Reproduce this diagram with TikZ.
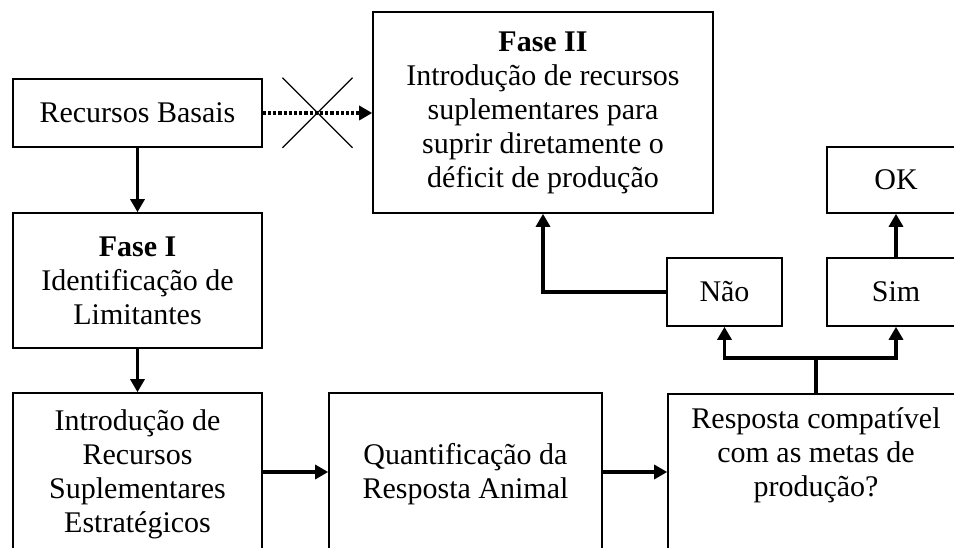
\documentclass[tikz,border=0pt]{standalone}
\usepackage{fontspec}
\setmainfont{Liberation Serif}
\usetikzlibrary{positioning}
\usetikzlibrary{calc}
\usetikzlibrary{arrows.meta}
\usetikzlibrary{shapes.misc}
\tikzset{
    caixa/.style={draw, line width=1.6pt, align=center, inner sep=0pt, font=\fontsize{30}{34}\selectfont},
    texto/.style={align=center, inner sep=0pt, font=\fontsize{30}{34}\selectfont},
    seta/.style={line width=3.2pt, -{Triangle[length=13pt,width=14pt]}},
    linha/.style={line width=3.2pt},
    pontilhada/.style={line width=3.6pt, dash pattern=on 3.2pt off 2pt, -{Triangle[length=13pt,width=14pt]}},
}

\begin{document}
\begin{tikzpicture}[x=1pt, y=1pt]
            \useasboundingbox (0,0) rectangle (954,547);
            \clip (0,0) rectangle (954,547);

            % Left column
            \node[caixa, minimum width=249pt, minimum height=68pt] (basais) at (137.5,434) {Recursos Basais};
            \node[caixa, minimum width=249pt, minimum height=135pt] (faseI) at (137.5,266.5) {\textbf{Fase I}\\Identificação de\\Limitantes};
            \node[caixa, minimum width=249pt, minimum height=162pt] (intro) at (137.5,73) {Introdução de\\Recursos\\Suplementares\\Estratégicos};

            % Bottom row
            \node[caixa, minimum width=273pt, minimum height=162pt] (quant) at (465.5,73) {Quantificação da\\Resposta Animal};
            \node[caixa, minimum width=296pt, minimum height=170pt, anchor=north] (resp) at (816,154) {};
            \node[texto, below=14pt of resp.north] (resptexto) {Resposta compatível\\com as metas de\\produção?};

            % Fase II and the answers
            \node[caixa, minimum width=340pt, minimum height=201pt] (faseII) at (543,434.5) {\textbf{Fase II}\\Introdução de recursos\\suplementares para\\suprir diretamente o\\déficit de produção};
            \node[caixa, minimum width=115pt, minimum height=68pt] (nao) at (724.5,255) {Não};
            \node[caixa, minimum width=138pt, minimum height=68pt] (sim) at (896,255) {Sim};
            \node[caixa, minimum width=138pt, minimum height=66pt] (ok) at (896,367) {OK};

            % Arrows
            \draw[seta] (basais) -- (faseI);
            \draw[seta] (faseI) -- (intro);
            \draw[seta] (intro.east |- 0,75) -- (quant.west |- 0,75);
            \draw[seta] (quant.east |- 0,75) -- (resp.west |- 0,75);
            \coordinate (divide) at (resp.north |- 0,189);
            \draw[linha] (resp.north) -- (divide);
            \draw[seta] (divide) -| (nao.south);
            \draw[seta] (divide) -| (sim.south);
            \draw[seta] (nao.west) -| (faseII.south);
            \draw[seta] (sim) -- (ok);

            % Blocked path
            \draw[pontilhada] (basais.east) -- (basais.east -| faseII.west);
            \node[cross out, draw, line width=1.1pt, minimum size=69pt, inner sep=0pt] (cruz) at ($(basais.east)!0.5!(faseII.west)$) {};
\end{tikzpicture}
\end{document}
